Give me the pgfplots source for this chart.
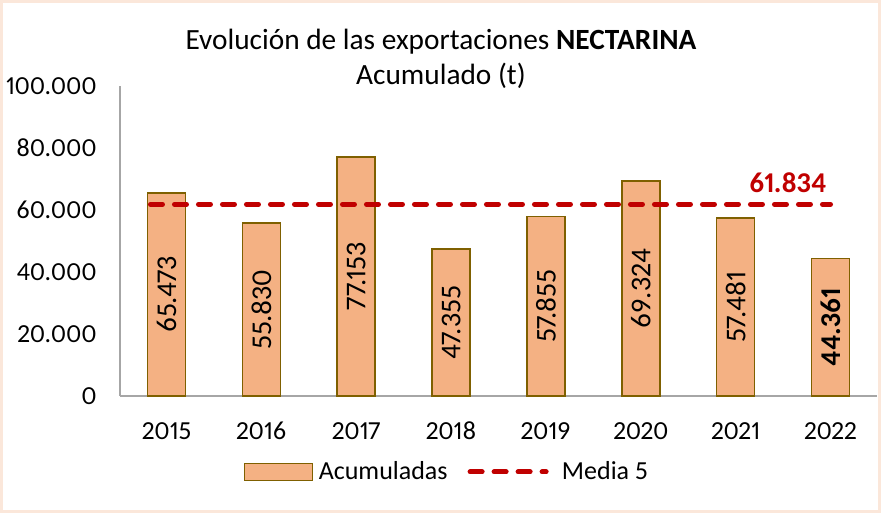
\documentclass[border=0pt]{standalone}
\usepackage{fontspec}
\setmainfont{Carlito}[Numbers={Lining,Proportional}]
\usepackage{pgfplots}
\pgfplotsset{compat=1.18}
\usepackage{pgfplotstable}
\definecolor{barfill}{RGB}{244,177,131}
\definecolor{baredge}{RGB}{127,96,0}
\definecolor{media}{RGB}{192,0,0}
\definecolor{framec}{RGB}{251,231,218}
\definecolor{axisgray}{RGB}{166,166,166}
\newcommand\fs{\fontsize{19.5}{23}\selectfont}
\newcommand\fl{\fontsize{21.5}{25}\selectfont}
\newcommand\ft{\fontsize{22}{26}\selectfont}

% exportaciones acumuladas (t)
\pgfplotstableread{
x v lab
0 65473 65.473
1 55830 55.830
2 77153 77.153
3 47355 47.355
4 57855 57.855
5 69324 69.324
6 57481 57.481
7 44361 {\textbf{44.361}}
}\exports

\begin{document}
\begin{tikzpicture}
\fill[white] (-90pt,-87.75pt) rectangle (570.75pt,297pt);
\draw[framec, line width=2pt] (-89pt,-86.75pt) rectangle (569.75pt,296pt);
\path[use as bounding box] (-90pt,-87.75pt) rectangle (570.75pt,297pt);
\begin{axis}[
  at={(0pt,0pt)}, anchor=south west,
  scale only axis, width=567.75pt, height=232.5pt,
  xmin=-0.49, xmax=7.49, ymin=0, ymax=100000,
  enlargelimits=false, clip=false,
  axis lines*=left,
  axis line style={draw=axisgray, line width=0.8pt},
  xtick={0,...,7},
  xticklabels={2015,2016,2017,2018,2019,2020,2021,2022},
  ytick={0,20000,40000,60000,80000,100000},
  yticklabels={0,20.000,40.000,60.000,80.000,100.000},
  scaled y ticks=false,
  major tick length=0pt,
  tick label style={font=\fs},
  xticklabel style={anchor=base, yshift=-32.5pt},
  yticklabel style={xshift=-14pt},
  legend columns=2,
  legend style={draw=none, fill=none, font=\fs,
    at={(axis description cs:0.432,-0.245)}, anchor=center,
    /tikz/every even column/.append style={column sep=25pt}},
]
\addplot[ybar, bar width=28.5pt, fill=barfill, draw=baredge, line width=1.2pt,
  legend image code/.code={\draw[fill=barfill, draw=baredge, line width=1.2pt] (0pt,-6.4pt) rectangle (51pt,6.4pt); \path (53pt,0pt);}]
  table[x=x, y=v] {\exports};
\addlegendentry{Acumuladas}
\addplot[media, line width=3.75pt, line cap=round, dash pattern=on 9pt off 9pt,
  shorten <=-12pt,
  legend image code/.code={\draw[media, line width=3.75pt, line cap=round, dash pattern=on 9pt off 9pt] (2pt,0pt) -- (47pt,0pt); \path (55pt,0pt);}]
  coordinates {(0,61834) (1,61834) (2,61834) (3,61834) (4,61834) (5,61834) (6,61834) (7,61834)};
\addlegendentry{Media 5}
\addplot[draw=none, mark=none, forget plot, point meta=explicit symbolic,
  nodes near coords={\pgfplotspointmeta},
  every node near coord/.append style={anchor=center, rotate=90, font=\fl, text=black}]
  table[x=x, y expr=\thisrow{v}/2, meta=lab] {\exports};
\node[font=\fl\bfseries, text=media] at (axis cs:6.55,68700) {61.834};
\node[font=\ft] at (axis description cs:0.424,1.142) {Evolución de las exportaciones \textbf{NECTARINA}};
\node[font=\ft] at (axis description cs:0.424,1.032) {Acumulado (t)};
\end{axis}
\end{tikzpicture}
\end{document}
